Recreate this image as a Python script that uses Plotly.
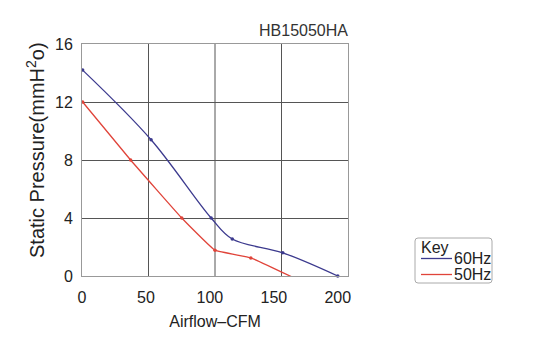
import plotly.graph_objects as go

# Data
flow_60 = [0.5, 54, 101, 117.5, 157, 200]
pres_60 = [14.2, 9.4, 4.0, 2.55, 1.6, 0.0]
flow_50 = [0.5, 38, 78, 104, 132, 165]
pres_50 = [12.0, 8.0, 4.0, 1.78, 1.25, -0.1]
x_ticks = [0, 50, 100, 150, 200]
y_ticks = [0, 4, 8, 12, 16]
series_names = ["60Hz", "50Hz"]
legend_title = "Key"

BLUE = "#3c3a8e"
RED = "#e0443a"
GRID = "#555555"
FONT = "Liberation Sans, Arial, sans-serif"

W, H = 545, 352
L, R, T, B = 82, 197, 44, 76
PW, PH = W - L - R, H - T - B


def px(xp):  # pixel x -> paper x (plot-domain relative)
    return (xp - L) / PW


def py(yp):  # pixel y -> paper y
    return (H - B - yp) / PH


fig = go.Figure()
fig.add_trace(go.Scatter(x=flow_60, y=pres_60, mode="lines+markers", name=series_names[0],
                         line=dict(color=BLUE, width=1.3, shape="spline", smoothing=1.0),
                         marker=dict(size=3.5, color=BLUE), showlegend=False, cliponaxis=False))
fig.add_trace(go.Scatter(x=flow_50, y=pres_50, mode="lines+markers", name=series_names[1],
                         line=dict(color=RED, width=1.3, shape="spline", smoothing=0.3),
                         marker=dict(size=3.5, color=RED), showlegend=False, cliponaxis=False))

# vertical grid lines at quarter divisions of the plot
for f in (0.25, 0.5, 0.75):
    fig.add_shape(type="line", xref="x domain", yref="y domain", x0=f, x1=f, y0=0, y1=1,
                  line=dict(color=GRID, width=1), layer="below")

# compact key box (rounded rectangle) with line samples
x0, x1, y0, y1, r = 415, 492, 238, 283, 3
path = (f"M {px(x0 + r)} {py(y0)} L {px(x1 - r)} {py(y0)} "
        f"Q {px(x1)} {py(y0)} {px(x1)} {py(y0 + r)} L {px(x1)} {py(y1 - r)} "
        f"Q {px(x1)} {py(y1)} {px(x1 - r)} {py(y1)} L {px(x0 + r)} {py(y1)} "
        f"Q {px(x0)} {py(y1)} {px(x0)} {py(y1 - r)} L {px(x0)} {py(y0 + r)} "
        f"Q {px(x0)} {py(y0)} {px(x0 + r)} {py(y0)} Z")
fig.add_shape(type="path", xref="paper", yref="paper", path=path,
              line=dict(color="#aaaaaa", width=1), fillcolor="white")
for name, color, yl in ((series_names[0], BLUE, 258.5), (series_names[1], RED, 274.5)):
    fig.add_shape(type="line", xref="paper", yref="paper", x0=px(421), x1=px(452),
                  y0=py(yl), y1=py(yl), line=dict(color=color, width=1.3))
    fig.add_annotation(text=name, xref="paper", yref="paper", x=px(452), y=py(yl),
                       xanchor="left", yanchor="middle", showarrow=False,
                       font=dict(size=16, color="#222222"))
fig.add_annotation(text=legend_title, xref="paper", yref="paper", x=px(419), y=py(247),
                   xanchor="left", yanchor="middle", showarrow=False,
                   font=dict(size=16, color="#222222"))

# y-axis title placed as in the reference (slightly above plot centre)
fig.add_annotation(text="Static Pressure(mmH<sup>2</sup>o)", xref="paper", yref="paper",
                   x=px(35), y=py(150), xanchor="center", yanchor="middle", textangle=-90,
                   showarrow=False, font=dict(size=20, color="#222222"))

fig.update_layout(
    width=W, height=H,
    margin=dict(l=L, r=R, t=T, b=B),
    paper_bgcolor="white", plot_bgcolor="white",
    font=dict(family=FONT, color="#222222", size=16),
    showlegend=False,
    title=dict(text="HB15050HA", x=348/W, xanchor="right", y=1-30/H, yanchor="middle",
               xref="container", yref="container",
               font=dict(size=16, color="#333333")),
    xaxis=dict(range=[0, 208], tickvals=x_ticks, ticktext=[str(v) for v in x_ticks],
               showgrid=False, zeroline=False, showline=True, mirror=True,
               linecolor="#999999", linewidth=1, ticks="", tickfont=dict(size=16),
               ticklabelstandoff=7,
               title=dict(text="Airflow–CFM", font=dict(size=16), standoff=10)),
    yaxis=dict(range=[0, 16], tickvals=y_ticks, showgrid=True, gridcolor=GRID, gridwidth=1,
               zeroline=False, showline=True, mirror=True, linecolor="#999999", linewidth=1,
               ticks="", tickfont=dict(size=16), ticklabelstandoff=5),
)

fig.write_html("out.html")
